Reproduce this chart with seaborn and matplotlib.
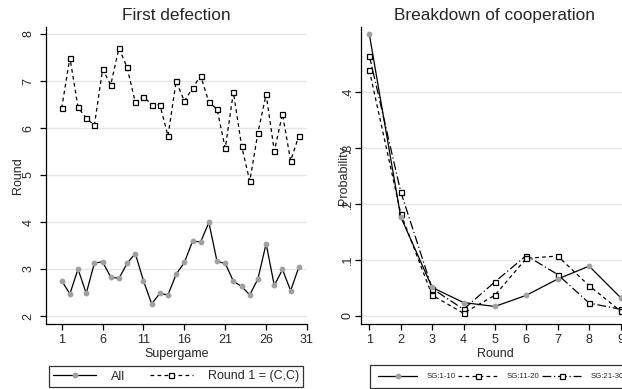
import matplotlib
matplotlib.use("Agg")
import matplotlib.pyplot as plt
from matplotlib.lines import Line2D
import seaborn as sns
import pandas as pd

# ---------------- data ----------------
supergame = [1, 2, 3, 4, 5, 6, 7, 8, 9, 10, 11, 12, 13, 14, 15,
             16, 17, 18, 19, 20, 21, 22, 23, 24, 25, 26, 27, 28, 29, 30]
first_def_all = [2.75, 2.47, 3.00, 2.48, 3.13, 3.15, 2.83, 2.80, 3.12, 3.33,
                 2.75, 2.26, 2.48, 2.45, 2.89, 3.14, 3.59, 3.58, 3.99, 3.16,
                 3.12, 2.74, 2.63, 2.45, 2.79, 3.54, 2.65, 2.99, 2.54, 3.04]
first_def_cc = [6.42, 7.50, 6.44, 6.21, 6.06, 7.25, 6.92, 7.70, 7.29, 6.55,
                6.67, 6.50, 6.50, 5.83, 7.00, 6.57, 6.85, 7.11, 6.55, 6.40,
                5.57, 6.76, 5.62, 4.87, 5.90, 6.72, 5.51, 6.30, 5.30, 5.83]

rounds = [1, 2, 3, 4, 5, 6, 7, 8, 9]
sg1_10 = [0.503, 0.177, 0.051, 0.024, 0.017, 0.037, 0.066, 0.089, 0.033]
sg11_20 = [0.439, 0.183, 0.037, 0.005, 0.037, 0.103, 0.107, 0.054, 0.009]
sg21_30 = [0.465, 0.222, 0.049, 0.012, 0.061, 0.108, 0.074, 0.023, 0.012]

left_xticks = [1, 6, 11, 16, 21, 26, 31]
left_yticks = [2, 3, 4, 5, 6, 7, 8]
right_xticks = [1, 2, 3, 4, 5, 6, 7, 8, 9]
right_yticks = [0, 0.1, 0.2, 0.3, 0.4]
right_yticklabels = ["0", ".1", ".2", ".3", ".4"]

# ---------------- style ----------------
sns.set_style("white")
plt.rcParams["font.family"] = ["Liberation Sans", "DejaVu Sans"]

W, H = 622, 389
fig = plt.figure(figsize=(W / 100, H / 100), dpi=100)
fig.patch.set_facecolor("white")


def px_axes(x0, x1, ytop, ybot):
    return fig.add_axes([x0 / W, 1 - ybot / H, (x1 - x0) / W, (ybot - ytop) / H])


ax1 = px_axes(46, 307, 27, 324)
ax2 = px_axes(361, 629, 27, 324)

GRAY = "#a0a0a0"
LW = 0.9
circ = dict(marker="o", markersize=4.2, markerfacecolor=GRAY, markeredgecolor=GRAY,
            markeredgewidth=0)
sq = dict(marker="s", markersize=3.6, markerfacecolor="white", markeredgecolor="black",
          markeredgewidth=0.9)
dash_short = (0, (3.0, 2.6))
dash_long_dot = (0, (7.0, 2.2, 1.0, 2.2))

# ---------------- left panel ----------------
df1 = pd.DataFrame({"sg": supergame, "all": first_def_all, "cc": first_def_cc})
sns.lineplot(data=df1, x="sg", y="cc", ax=ax1, color="black", lw=LW,
             linestyle=dash_short, **sq)
sns.lineplot(data=df1, x="sg", y="all", ax=ax1, color="black", lw=LW, **circ)

# ---------------- right panel ----------------
df2 = pd.DataFrame({"r": rounds, "a": sg1_10, "b": sg11_20, "c": sg21_30})
sns.lineplot(data=df2, x="r", y="c", ax=ax2, color="black", lw=LW,
             linestyle=dash_long_dot, **sq)
sns.lineplot(data=df2, x="r", y="b", ax=ax2, color="black", lw=LW,
             linestyle=dash_short, **sq)
sns.lineplot(data=df2, x="r", y="a", ax=ax2, color="black", lw=LW, **circ)

for ax in (ax1, ax2):
    for s in ("top", "right"):
        ax.spines[s].set_visible(False)
    for s in ("left", "bottom"):
        ax.spines[s].set_color("black")
        ax.spines[s].set_linewidth(0.9)
    ax.grid(axis="y", color="#e6e6e6", lw=1.0)
    ax.grid(axis="x", visible=False)
    ax.set_axisbelow(True)
    ax.tick_params(axis="both", direction="out", length=4.3, width=0.9, color="black",
                   labelsize=9, left=True, bottom=True)

ax1.set_xlim(-0.92, 31)
ax1.set_ylim(1.83, 8.15)
ax1.set_xticks(left_xticks)
ax1.set_yticks(left_yticks)
ax1.set_yticklabels([str(v) for v in left_yticks], rotation=90, va="center")
ax1.tick_params(axis="y", pad=4)
ax1.tick_params(axis="x", pad=3)
ax1.set_xlabel("Supergame", fontsize=9, labelpad=1)
ax1.set_ylabel("Round", fontsize=9)
ax1.yaxis.set_label_coords(-0.085, 0.5)
ax1.set_title("First defection", fontsize=12.4, pad=4.8)

ax2.set_xlim(0.735, 9.27)
ax2.set_ylim(-0.0143, 0.516)
ax2.set_xticks(right_xticks)
ax2.set_yticks(right_yticks)
ax2.set_yticklabels(right_yticklabels, rotation=90, va="center")
ax2.tick_params(axis="y", pad=1)
ax2.tick_params(axis="x", pad=3)
ax2.set_xlabel("Round", fontsize=9, labelpad=1)
ax2.set_ylabel("Probability", fontsize=9)
ax2.yaxis.set_label_coords(-0.04, 0.5)
ax2.set_title("Breakdown of cooperation", fontsize=12.4, pad=4.8)

# ---------------- legends ----------------
h_all = Line2D([], [], color="black", lw=LW, **circ)
h_cc = Line2D([], [], color="black", lw=LW, linestyle=dash_short, **sq)
leg1 = fig.legend([h_all, h_cc], ["All", "Round 1 = (C,C)"],
                  loc="center", bbox_to_anchor=(176 / W, 1 - 376.5 / H),
                  ncol=2, fontsize=9, frameon=True, fancybox=False,
                  edgecolor="black", handlelength=3.4, handletextpad=1.2,
                  columnspacing=2.0, borderpad=0.35, numpoints=1)
leg1.get_frame().set_linewidth(0.9)

h_a = Line2D([], [], color="black", lw=LW, **circ)
h_b = Line2D([], [], color="black", lw=LW, linestyle=dash_short, **sq)
h_c = Line2D([], [], color="black", lw=LW, linestyle=dash_long_dot, **sq)
leg2 = fig.legend([h_a, h_b, h_c], ["SG:1-10", "SG:11-20", "SG:21-30"],
                  loc="center left", bbox_to_anchor=(366 / W, 1 - 376.5 / H),
                  ncol=3, fontsize=5.6, frameon=True, fancybox=False,
                  edgecolor="black", handlelength=5.0, handletextpad=1.2,
                  columnspacing=0.4, borderpad=1.05, numpoints=1)
leg2.get_frame().set_linewidth(0.9)

fig.savefig("out.png", dpi=100, facecolor="white")
